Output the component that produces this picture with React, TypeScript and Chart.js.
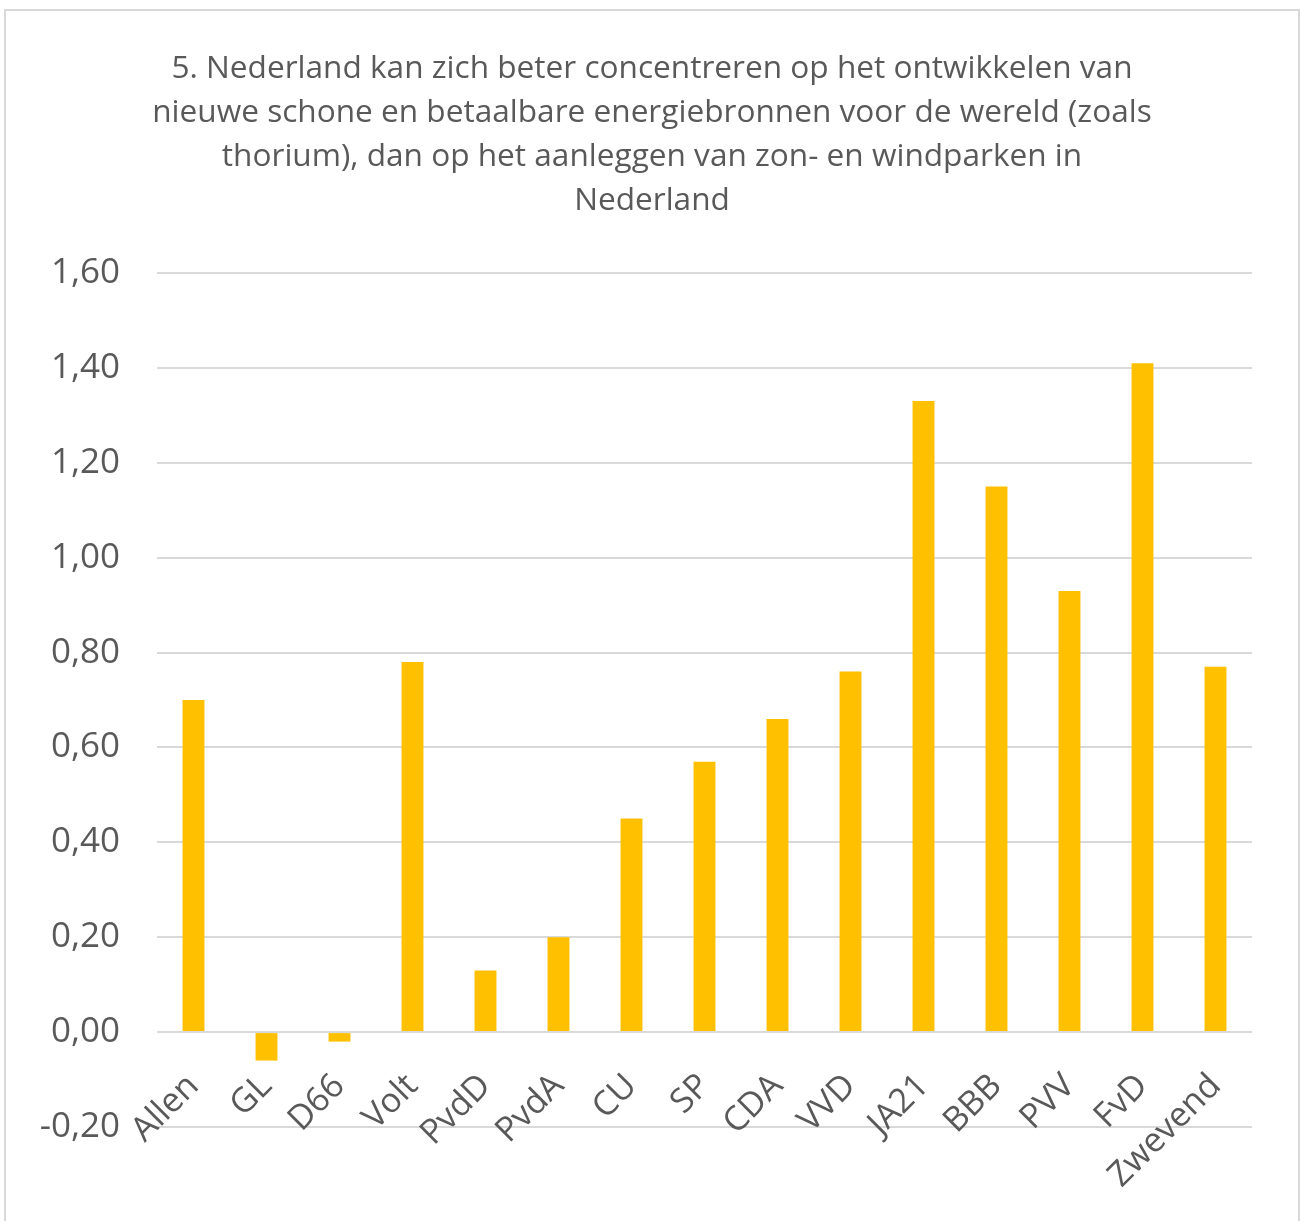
import React, { useEffect, useRef } from "react";
import { Chart, registerables } from "chart.js";

Chart.register(...registerables);

const titleLines = [
  "5. Nederland kan zich beter concentreren op het ontwikkelen van",
  "nieuwe schone en betaalbare energiebronnen voor de wereld (zoals",
  "thorium), dan op het aanleggen van zon- en windparken in",
  "Nederland",
];

const categories = [
  "Allen", "GL", "D66", "Volt", "PvdD", "PvdA", "CU", "SP",
  "CDA", "VVD", "JA21", "BBB", "PVV", "FvD", "Zwevend",
];

const values = [
  0.70, -0.06, -0.02, 0.78, 0.13, 0.20, 0.45, 0.57,
  0.66, 0.76, 1.33, 1.15, 0.93, 1.41, 0.77,
];

const yMin = -0.2;
const yMax = 1.6;
const yStep = 0.2;

// Centre the title over the whole picture frame rather than over the padded area.
const titleCenterPlugin = {
  id: "titleCenter",
  afterLayout(chart: any) {
    const tb = chart.titleBlock;
    if (tb) {
      tb.left = 0;
      tb.right = 1304;
      tb.width = 1304;
    }
  },
};

export default function App() {
  const canvasRef = useRef<HTMLCanvasElement | null>(null);

  useEffect(() => {
    const canvas = canvasRef.current;
    if (!canvas) return;
    const chart = new Chart(canvas, {
      type: "bar",
      data: {
        labels: categories,
        datasets: [
          {
            data: values,
            backgroundColor: "#FFC000",
            borderWidth: 0,
            barPercentage: 0.3,
            categoryPercentage: 1,
          },
        ],
      },
      plugins: [titleCenterPlugin],
      options: {
        responsive: false,
        animation: false,
        layout: { padding: { top: 0, left: 0, right: 49, bottom: 94 } },
        plugins: {
          legend: { display: false },
          tooltip: { enabled: false },
          title: {
            display: true,
            text: titleLines,
            color: "#595959",
            font: { family: "'Open Sans'", size: 31.6, weight: "normal", lineHeight: 44 / 31.6 },
            padding: { top: 47, bottom: 50 },
          },
        },
        scales: {
          x: {
            position: { y: 0 } as any,
            grid: { display: false },
            border: { display: false },
            ticks: {
              autoSkip: false,
              minRotation: 45,
              maxRotation: 45,
              padding: 26,
              color: "#595959",
              font: { family: "'Open Sans'", size: 34 },
            },
          },
          y: {
            min: yMin,
            max: yMax,
            afterFit: (scale: any) => {
              scale.width = 157;
            },
            grid: { color: "#d9d9d9", lineWidth: 2, drawTicks: false },
            border: { display: false },
            ticks: {
              stepSize: yStep,
              padding: 37,
              color: "#595959",
              font: { family: "'Open Sans'", size: 35 },
              callback: (v: any) => Number(v).toFixed(2).replace(".", ","),
            },
          },
        },
      },
    });
    return () => chart.destroy();
  }, []);

  return (
    <div
      style={{
        position: "absolute",
        left: 0,
        top: 0,
        width: 1301,
        height: 1221,
        overflow: "hidden",
        background: "#ffffff",
      }}
    >
      <div
        style={{
          position: "absolute",
          left: 4,
          top: 9,
          width: 1292,
          height: 1300,
          border: "2px solid #d9d9d9",
        }}
      />
      <canvas
        ref={canvasRef}
        width={1301}
        height={1221}
        style={{ position: "absolute", left: 0, top: 0, width: 1301, height: 1221 }}
      />
    </div>
  );
}
